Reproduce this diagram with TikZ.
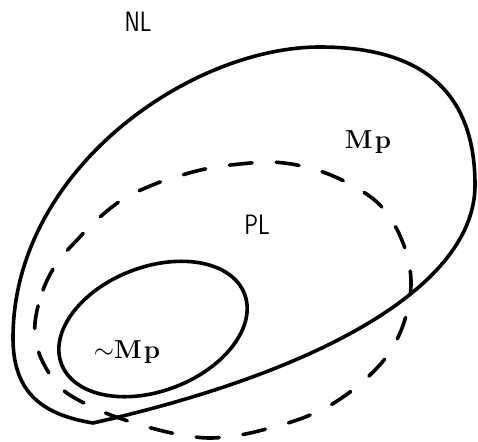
\documentclass[tikz,border=0pt]{standalone}
\usepackage{fix-cm}
\usepackage{fontspec}
\begin{document}
\begin{tikzpicture}[x=1pt,y=-1pt, line join=round, line cap=round,
  curve/.style={line width=3.6pt},
  dashcurve/.style={line width=3.6pt, line cap=round, dash pattern=on 23pt off 24pt},
  serif/.style={font=\bfseries\fontsize{26}{26}\selectfont},
  sans/.style={font=\sffamily\fontsize{28}{28}\selectfont, xscale=0.82}]
\useasboundingbox (0,0) rectangle (478,441);
% outer region Mp
\coordinate (tip) at (93,423);
\coordinate (east) at (475,185);
\coordinate (top) at (320,47);
\coordinate (west) at (13,338);
\draw[curve] (tip) .. controls (323,371) and (475,285) .. (east)
  .. controls (475,90) and (420,47) .. (top)
  .. controls (190,47) and (13,170) .. (west)
  .. controls (13,395) and (45,415) .. (tip) -- cycle;
% dashed region PL
\draw[dashcurve] plot[smooth cycle, tension=0.6] coordinates {(35,323) (43,290) (57,263) (77,240) (100,217) (125,198) (155,184) (182,175) (210,168) (240,164) (270,162) (297,165) (320,171) (342,180) (362,191) (380,205) (394,224) (403,243) (409,263) (411,285) (408,308) (400,333) (387,356) (370,375) (350,392) (327,407) (300,419) (270,428) (240,435) (210,438) (182,435) (155,429) (128,421) (103,412) (82,402) (63,390) (49,373) (38,350)};
% inner region ~Mp
\draw[curve, shift={(153,329)}, rotate=21] (0,0) ellipse [x radius=98, y radius=62];
% labels
\node[sans] (nl) at (138,22) {NL};
\node[serif] (mp) at (368,142) {M\hspace{0.08em}p};
\node[sans] (pl) at (257,225) {PL};
\node[serif] (nmp) at (127,352) {$\sim$M\hspace{0.08em}p};
\end{tikzpicture}
\end{document}
